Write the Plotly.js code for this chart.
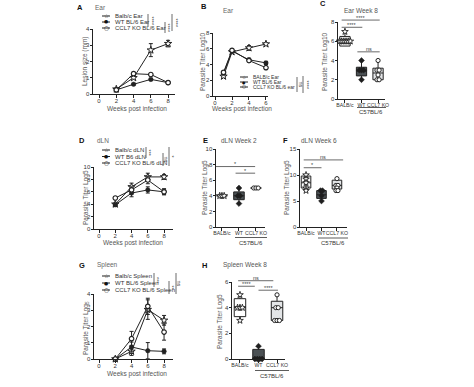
<!DOCTYPE html>
<html><head><meta charset="utf-8">
<script src="https://cdn.plot.ly/plotly-3.0.1.min.js"></script>
<style>html,body{margin:0;padding:0;background:#fff}#chart{width:474px;height:387px}</style>
</head><body><div id="chart"></div>
<script>
// ---------------- DATA ----------------
const weeks = [2, 4, 6, 8];
// A: lesion size (mm)
const earBalbc = [0.3, 1.0, 2.7, 3.1];
const earBalbcErr = [0.05, 0.1, 0.4, 0.2];
const earWT = [0.25, 0.6, 0.9, 0.7];
const earWTErr = [0.03, 0.05, 0.06, 0.05];
const earKO = [0.25, 1.25, 1.2, 0.7];
const earKOErr = [0.03, 0.1, 0.06, 0.05];
// B: ear parasite titer log10
const weeksB = [1, 2, 4, 6];
const titerBalbc = [2.5, 5.6, 6.1, 6.6];
const titerBalbcErr = [0.15, 0.2, 0.3, 0.15];
const titerWT = [2.9, 5.7, 4.6, 4.2];
const titerWTErr = [0.15, 0.15, 0.2, 0.2];
const titerKO = [3.0, 5.8, 4.5, 3.6];
const titerKOErr = [0.15, 0.15, 0.2, 0.15];
// D: dLN parasite titer log5
const dlnBalbc = [4.0, 6.8, 8.4, 8.4];
const dlnBalbcErr = [0.2, 0.6, 0.6, 0.4];
const dlnWT = [3.9, 5.8, 6.3, 6.0];
const dlnWTErr = [0.2, 0.6, 0.5, 0.5];
const dlnKO = [5.0, 6.3, 7.9, 6.0];
const dlnKOErr = [0.1, 0.5, 0.6, 0.4];
// G: spleen parasite titer log5
const spleenBalbc = [0, 0.47, 3.04, 2.38];
const spleenBalbcErr = [0, 0.25, 0.6, 0.3];
const spleenWT = [0, 0.74, 0.51, 0.47];
const spleenWTErr = [0, 0.3, 0.5, 0.15];
const spleenKO = [0, 1.25, 3.24, 1.66];
const spleenKOErr = [0, 0.45, 0.5, 0.5];

// Box panels
const groups = ['BALB/c', 'WT', 'CCL7 KO'];
// C: Ear week 8 (log10)
const cQ1 = [5.5, 2.4, 2.0], cMed = [6.0, 2.9, 2.7], cQ3 = [6.5, 3.3, 3.2], cMin = [5.5, 2.0, 2.0], cMax = [7.0, 4.0, 4.0];
const cPtsBalbc = [7, 6, 6, 6, 6, 6, 6], cPtsWT = [4, 3, 3, 3, 2], cPtsKO = [4, 3, 3, 2.5, 2, 2];
// E: dLN week 2 (log5)
const eQ1 = [4, 3.5, 5], eMed = [4, 4, 5], eQ3 = [4, 4.5, 5], eMin = [4, 3, 5], eMax = [4, 5, 5];
const ePtsBalbc = [4, 4, 4], ePtsWT = [5, 4, 4, 3], ePtsKO = [5, 5, 5];
// F: dLN week 6 (log5)
const fQ1 = [7.5, 5.5, 7.3], fMed = [8.5, 6.2, 8.0], fQ3 = [9.8, 7.0, 9.0], fMin = [7.0, 5.0, 7.0], fMax = [10.0, 7.0, 9.3];
const fPtsBalbc = [10, 9.2, 8.5, 7.5, 7], fPtsWT = [7, 7, 6, 5], fPtsKO = [9.3, 8, 8, 7.5, 7, 7];
// H: spleen week 8 (log5)
const hQ1 = [3.3, 0, 3.0], hMed = [4.0, 0, 4.0], hQ3 = [4.7, 0.75, 4.5], hMin = [3, 0, 3], hMax = [5, 1, 5];
const hPtsBalbc = [5, 4, 4, 4, 3], hPtsWT = [1, 0, 0, 0, 0], hPtsKO = [5, 4, 4, 3, 3, 3];

// ---------------- LAYOUT HELPERS ----------------
const W = 474, H = 387;
const FONT = 'Liberation Sans, Arial, sans-serif';
const P = {
  A: {n: '',  box: [93, 175, 29, 94],   xr: [-0.7, 8.8],  yr: [0, 4],  yt: [0,1,2,3,4], xt: [0,2,4,6,8]},
  B: {n: '2', box: [213, 268, 33, 96],  xr: [-0.24, 6.24],yr: [0, 8],  yt: [0,2,4,6,8], xt: [0,2,4,6]},
  C: {n: '3', box: [338, 385, 22, 99],  xr: [-0.42, 2.42],yr: [0, 8],  yt: [0,2,4,6,8], cat: true},
  D: {n: '4', box: [94, 173, 167, 229], xr: [-0.62, 9.1], yr: [0, 10], yt: [0,2,4,6,8,10], xt: [0,2,4,6,8]},
  E: {n: '5', box: [216, 265, 149, 227],xr: [-0.35, 2.53],yr: [0, 10], yt: [0,2,4,6,8,10], cat: true},
  F: {n: '6', box: [300, 347, 149, 227],xr: [-0.39, 2.65],yr: [0, 15], yt: [0,5,10,15], cat: true},
  G: {n: '7', box: [94, 173, 294, 359], xr: [-0.62, 9.1], yr: [0, 4],  yt: [0,1,2,3,4], xt: [0,2,4,6,8]},
  H: {n: '8', box: [232, 285, 282, 359],xr: [-0.43, 2.43],yr: [0, 6],  yt: [0,2,4,6], cat: true}
};
const xpx = (p, v) => p.box[0] + (v - p.xr[0]) / (p.xr[1] - p.xr[0]) * (p.box[1] - p.box[0]);
const ypx = (p, v) => p.box[3] - (v - p.yr[0]) / (p.yr[1] - p.yr[0]) * (p.box[3] - p.box[2]);
const fx = v => v / W, fy = v => 1 - v / H;

const layout = {
  width: W, height: H, margin: {l: 0, r: 0, t: 0, b: 0},
  paper_bgcolor: '#fff', plot_bgcolor: 'rgba(0,0,0,0)', showlegend: false,
  font: {family: FONT, size: 6, color: '#333'},
  shapes: [], annotations: []
};
Object.values(P).forEach(p => {
  const ax = {
    showline: true, linecolor: '#222', linewidth: 1, ticks: 'outside', ticklen: 2.5, tickwidth: 1,
    tickcolor: '#222', showgrid: false, zeroline: false, fixedrange: true, tickangle: 0,
    tickfont: {family: FONT, size: 6, color: '#333'}
  };
  layout['xaxis' + p.n] = Object.assign({}, ax, {
    domain: [fx(p.box[0]), fx(p.box[1])], range: p.xr, anchor: 'y' + p.n,
    tickmode: 'array', tickvals: p.cat ? [0, 1, 2] : p.xt, ticktext: p.cat ? groups : p.xt.map(String),
    ticklabelstandoff: -2,
    tickfont: {family: FONT, size: p.cat ? 5.2 : 6, color: '#333'}
  });
  layout['yaxis' + p.n] = Object.assign({}, ax, {
    domain: [fy(p.box[3]), fy(p.box[2])], range: p.yr, anchor: 'x' + p.n,
    tickmode: 'array', tickvals: p.yt, ticklabelstandoff: -1
  });
});

function ann(text, x, y, o) {
  o = o || {};
  layout.annotations.push({
    text: text, x: fx(x), y: fy(y), xref: 'paper', yref: 'paper', showarrow: false,
    xanchor: o.xa || 'center', yanchor: 'middle', textangle: o.ang || 0,
    font: {family: o.fam || FONT, size: o.size || 6, color: o.color || '#333'}
  });
}
function seg(x0, y0, x1, y1, color, w) {
  layout.shapes.push({type: 'line', xref: 'paper', yref: 'paper',
    x0: fx(x0), y0: fy(y0), x1: fx(x1), y1: fy(y1), line: {color: color || '#444', width: w || 1}});
}

// ---------------- TRACES ----------------
const MK = {
  balbc: {symbol: 'star', size: 5.5, color: '#fff', line: {color: '#222', width: 1}},
  wt: {symbol: 'circle', size: 4.5, color: '#222', line: {color: '#222', width: 0.5}},
  ko: {symbol: 'circle', size: 4.5, color: '#fff', line: {color: '#222', width: 1.2}}
};
const traces = [];
function lineTr(p, xs, ys, err, kind) {
  traces.push({
    type: 'scatter', mode: 'lines+markers', xaxis: 'x' + p.n, yaxis: 'y' + p.n,
    x: xs, y: ys, cliponaxis: false, hoverinfo: 'skip',
    line: {color: '#222', width: 1}, marker: MK[kind],
    error_y: {type: 'data', array: err, visible: true, color: '#222', thickness: 1, width: 2}
  });
}
lineTr(P.A, weeks, earBalbc, earBalbcErr, 'balbc');
lineTr(P.A, weeks, earWT, earWTErr, 'wt');
lineTr(P.A, weeks, earKO, earKOErr, 'ko');
lineTr(P.B, weeksB, titerBalbc, titerBalbcErr, 'balbc');
lineTr(P.B, weeksB, titerWT, titerWTErr, 'wt');
lineTr(P.B, weeksB, titerKO, titerKOErr, 'ko');
lineTr(P.D, weeks, dlnBalbc, dlnBalbcErr, 'balbc');
lineTr(P.D, weeks, dlnWT, dlnWTErr, 'wt');
lineTr(P.D, weeks, dlnKO, dlnKOErr, 'ko');
lineTr(P.G, weeks, spleenBalbc, spleenBalbcErr, 'balbc');
lineTr(P.G, weeks, spleenWT, spleenWTErr, 'wt');
lineTr(P.G, weeks, spleenKO, spleenKOErr, 'ko');

const BOXFILL = ['#ffffff', '#4b5154', '#e3e5e7'];
const PTMK = [
  {symbol: 'star', size: 5, color: '#fff', line: {color: '#222', width: 0.9}},
  {symbol: 'diamond', size: 4.5, color: '#1e1e1e', line: {color: '#1e1e1e', width: 0.5}},
  {symbol: 'circle', size: 4.2, color: '#fff', line: {color: '#222', width: 1}}
];
function spread(vals, center, step) {
  const counts = {}, seen = {};
  vals.forEach(v => counts[v] = (counts[v] || 0) + 1);
  return vals.map(v => { const k = seen[v] || 0; seen[v] = k + 1; return center + (k - (counts[v] - 1) / 2) * step; });
}
function boxPanel(p, q1, med, q3, lo, hi, pts) {
  for (let i = 0; i < 3; i++) {
    traces.push({
      type: 'box', xaxis: 'x' + p.n, yaxis: 'y' + p.n, x: [i],
      q1: [q1[i]], median: [med[i]], q3: [q3[i]], lowerfence: [lo[i]], upperfence: [hi[i]],
      fillcolor: BOXFILL[i], line: {color: '#222', width: 1}, width: 0.62, whiskerwidth: 0,
      boxpoints: false, hoverinfo: 'skip'
    });
  }
  for (let i = 0; i < 3; i++) {
    traces.push({
      type: 'scatter', mode: 'markers', xaxis: 'x' + p.n, yaxis: 'y' + p.n,
      x: spread(pts[i], i, 0.13), y: pts[i], marker: PTMK[i], cliponaxis: false, hoverinfo: 'skip'
    });
  }
}
boxPanel(P.C, cQ1, cMed, cQ3, cMin, cMax, [cPtsBalbc, cPtsWT, cPtsKO]);
boxPanel(P.E, eQ1, eMed, eQ3, eMin, eMax, [ePtsBalbc, ePtsWT, ePtsKO]);
boxPanel(P.F, fQ1, fMed, fQ3, fMin, fMax, [fPtsBalbc, fPtsWT, fPtsKO]);
boxPanel(P.H, hQ1, hMed, hQ3, hMin, hMax, [hPtsBalbc, hPtsWT, hPtsKO]);

// ---------------- TEXT / DECORATION ----------------
[['A', 80, 8], ['B', 204, 6], ['C', 323, 4], ['D', 82, 140], ['E', 205, 140], ['F', 285, 140], ['G', 82, 265], ['H', 204, 265]]
  .forEach(([t, x, y]) => ann('<b>' + t + '</b>', x, y, {size: 7.5, color: '#111'}));
ann('Ear', 93, 8, {xa: 'left', size: 6.5, color: '#666'});
ann('Ear', 221, 10, {xa: 'left', size: 6.5, color: '#666'});
ann('Ear Week 8', 361, 10, {size: 6.5, color: '#555'});
ann('dLN', 95, 140, {xa: 'left', size: 6.5, color: '#666'});
ann('dLN Week 2', 239, 140, {size: 6.5, color: '#555'});
ann('dLN Week 6', 319, 140, {size: 6.5, color: '#555'});
ann('Spleen', 95, 265, {xa: 'left', size: 6.5, color: '#666'});
ann('Spleen Week 8', 245, 265, {size: 6.5, color: '#555'});

const TC = '#555';
ann('Lesion size (mm)', 85, 62, {ang: -90, size: 6.5, color: TC});
ann('Parasite Titer Log10', 203, 62, {ang: -90, size: 6.5, color: TC});
ann('Parasite Titer Log10', 325, 62, {ang: -90, size: 6.5, color: TC});
ann('Parasite Titer Log5', 86, 198, {ang: -90, size: 6.5, color: TC});
ann('Parasite Titer Log5', 205, 188, {ang: -90, size: 6.5, color: TC});
ann('Parasite Titer Log5', 287, 188, {ang: -90, size: 6.5, color: TC});
ann('Parasite Titer Log<sub>5</sub>', 86, 328, {ang: -90, size: 6.5, color: TC});
ann('Parasite Titer Log5', 220, 322, {ang: -90, size: 6.5, color: TC});
ann('Weeks post infection', 137, 109, {size: 6.5, color: TC});
ann('Weeks post infection', 242, 109, {size: 6.5, color: TC});
ann('Weeks post infection', 133, 243, {size: 6.5, color: TC});
ann('Weeks post infection', 137, 374, {size: 6.5, color: TC});

// C57BL/6 group labels
[[357, 386, 107.5, 371, 112], [235, 267, 237.5, 251, 242.5], [318, 348, 238, 333, 242.5], [255, 289, 370.5, 272, 375.5]]
  .forEach(([x0, x1, yl, xt, yt]) => { seg(x0, yl, x1, yl, '#333', 0.8); ann('C57BL/6', xt, yt, {size: 6}); });

// legends for line panels
const GLYPH = ['☆', '●', '○'];
function legend(x, ys, labels, size) {
  const s = size || 6;
  ys.forEach((y, i) => {
    seg(x, y, x + 8, y, '#222', 1);
    ann(GLYPH[i], x + 4, y, {fam: 'DejaVu Sans', size: i === 1 ? s - 1.2 : s - 0.3, color: '#111'});
    ann(labels[i], x + 11, y, {xa: 'left', size: s, color: '#333'});
  });
}
legend(102, [16, 22, 28], ['Balb/c Ear', 'WT BL/6 Ear', 'CCL7 KO BL/6 Ear']);
legend(240, [77, 82, 87], ['BALB/c Ear', 'WT BL/6 Ear', 'CCL7 KO BL/6 ear'], 5);
legend(102, [150, 156.5, 163], ['Balb/c dLN', 'WT B6 dLN', 'CCL7 KO BL/6 dLN']);
legend(102, [276, 283, 290], ['Balb/c Spleen', 'WT BL/6 Spleen', 'CCL7 KO BL/6 Spleen']);

// vertical significance bars for line panels
function vbar(x, y0, y1, txt) {
  seg(x, y0, x, y1, '#444', 0.8);
  ann(txt, x + 3, (y0 + y1) / 2, {ang: 90, size: 5.5, color: '#444'});
}
vbar(148, 14, 27, '****'); vbar(165, 22, 33, '****'); vbar(172, 14, 31, '****');
vbar(297, 77, 92, 'ns'); vbar(303, 76, 93, '****');
vbar(146, 147, 158, '***'); vbar(163, 153, 166, 'ns'); vbar(169, 147, 166, '*');
vbar(154, 273, 287, '***'); vbar(169, 281, 294, '**'); vbar(176, 273, 294, 'ns');

// horizontal significance bars for box panels (data coordinates)
function hbar(p, a, b, v, txt) {
  const y = ypx(p, v);
  seg(xpx(p, a), y, xpx(p, b), y, '#444', 0.8);
  ann(txt, (xpx(p, a) + xpx(p, b)) / 2, y - 2.5, {size: 5.5, color: '#444'});
}
hbar(P.C, -0.2, 2.1, 8.2, '****'); hbar(P.C, -0.2, 1.05, 7.45, '****'); hbar(P.C, 0.75, 2.1, 4.9, 'ns');
hbar(P.E, -0.35, 1.95, 7.75, '*'); hbar(P.E, 0.8, 1.95, 6.9, '*');
hbar(P.F, -0.15, 2.4, 12.9, 'ns'); hbar(P.F, -0.15, 1.0, 11.4, '*');
hbar(P.H, -0.1, 1.8, 6.1, 'ns'); hbar(P.H, -0.1, 0.8, 5.67, '****'); hbar(P.H, 1.0, 2.05, 5.36, '****');

Plotly.newPlot('chart', traces, layout, {staticPlot: true, displayModeBar: false});
</script></body></html>
